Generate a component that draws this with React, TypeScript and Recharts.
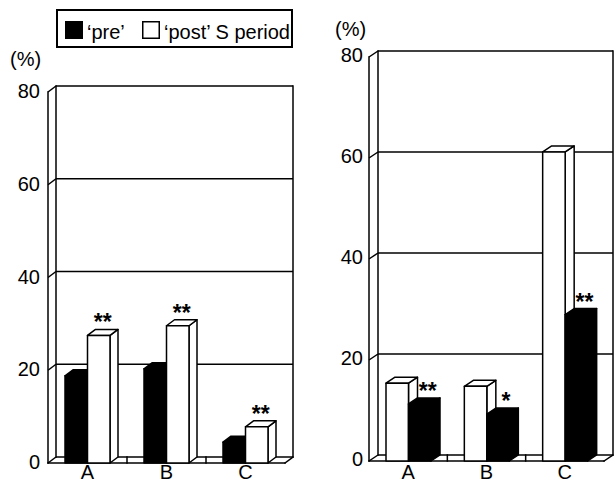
import React from 'react';
import { BarChart, Bar, XAxis, YAxis, CartesianGrid, ReferenceArea, LabelList, Legend } from 'recharts';

// ---- data ----
const categories = ['A', 'B', 'C'];
const leftPre = [18.8, 20.3, 4.5];
const leftPost = [27.5, 29.6, 7.8];
const leftStars = ['**', '**', '**'];
const rightPost = [15.4, 14.8, 61.2];
const rightPre = [11.3, 9.3, 29.0];
const rightStars = ['**', '*', '**'];
const yTicks = [0, 20, 40, 60, 80];
const yDomain: [number, number] = [0, 80];
const preName = '\u2018pre\u2019';
const postName = '\u2018post\u2019 S period';
const legendOrder = [preName, postName];
const unitLabel = '(%)';

const leftData = categories.map((c, i) => ({ cat: c, pre: leftPre[i], post: leftPost[i], star: leftStars[i] }));
const rightData = categories.map((c, i) => ({ cat: c, pre: rightPre[i], post: rightPost[i], star: rightStars[i] }));

const FONT = '"Liberation Sans", Arial, Helvetica, sans-serif';
const INK = '#000';
const LW = 1.5;

// ---- 3D helpers ----
const makeFrame = (dx: number, dy: number, n: number) => (props: any) => {
  const { x, y, width: w, height: h } = props;
  if (x == null || w == null) return null;
  const bottom = y + h;
  const lines: number[][] = [
    [x, y, x, bottom],
    [x + dx, y - dy, x + dx, bottom - dy],
    [x + w + dx, y - dy, x + w + dx, bottom - dy],
    [x, bottom, x + w, bottom],
    [x + w, bottom, x + w + dx, bottom - dy],
  ];
  for (let i = 1; i < n; i++) {
    const bx = x + (w * i) / n;
    lines.push([bx, bottom, bx, bottom - dy]);
  }
  return (
    <g>
      {lines.map((l, i) => (
        <line key={i} x1={l[0]} y1={l[1]} x2={l[2]} y2={l[3]} stroke={INK} strokeWidth={LW} strokeLinecap="square" />
      ))}
    </g>
  );
};

const makeGridLine = (dx: number, dy: number) => (props: any) => {
  const { x1, y1, x2 } = props;
  return (
    <g key={`g-${y1}`}>
      <line x1={x1 + dx} y1={y1 - dy} x2={x2 + dx} y2={y1 - dy} stroke={INK} strokeWidth={LW} />
      <line x1={x1} y1={y1} x2={x1 + dx} y2={y1 - dy} stroke={INK} strokeWidth={LW} />
    </g>
  );
};

const makeBar3D = (dx: number, dy: number) => (props: any) => {
  const { x, y, width: w, height: h, fill } = props;
  if (x == null || h == null || w == null) return null;
  const common = { fill, stroke: INK, strokeWidth: LW, strokeLinejoin: 'round' as const };
  return (
    <g>
      <polygon points={`${x + w},${y} ${x + w + dx},${y - dy} ${x + w + dx},${y + h - dy} ${x + w},${y + h}`} {...common} />
      <polygon points={`${x},${y} ${x + dx},${y - dy} ${x + w + dx},${y - dy} ${x + w},${y}`} {...common} />
      <rect x={x} y={y} width={w} height={h} {...common} />
    </g>
  );
};

const makeStar = (off: number) => (props: any) => {
  const vb = props.viewBox && props.viewBox.width != null ? props.viewBox : props;
  const { x, y, width } = vb;
  if (x == null) return null;
  return (
    <text x={x + width / 2 + off} y={y - 5} textAnchor="middle" fontFamily={FONT} fontWeight="bold" fontSize={23} fill={INK}>
      {props.value}
    </text>
  );
};

const makeXTick = (dy: number) => (props: any) => {
  const { x, y, payload } = props;
  return (
    <text x={x} y={y} dy={dy} textAnchor="middle" fontFamily={FONT} fontSize={20} fill={INK}>
      {payload.value}
    </text>
  );
};

const makeYTick = (dy: number) => (props: any) => {
  const { x, y, payload } = props;
  return (
    <text x={x} y={y} dy={dy} textAnchor="end" fontFamily={FONT} fontSize={20} fill={INK}>
      {payload.value}
    </text>
  );
};

const makeUnit = (ox: number, oy: number) => (props: any) => {
  const vb = props.viewBox || {};
  return (
    <text x={(vb.x || 0) + ox} y={(vb.y || 0) + oy} textAnchor="start" fontFamily={FONT} fontSize={20} fill={INK}>
      {unitLabel}
    </text>
  );
};

const legendItemX = [9, 86];

const LegendBox = (props: any) => {
  const payload: any[] = props.payload || [];
  const items = legendOrder.map((n) => payload.find((p) => p.value === n)).filter(Boolean);
  return (
    <svg width={237} height={39} style={{ display: 'block' }}>
      <rect x={1} y={1} width={235} height={37} fill="#fff" stroke={INK} strokeWidth={2} />
      {items.map((p: any, i: number) => (
        <g key={i}>
          <rect x={legendItemX[i] + 0.75} y={12.75} width={16.5} height={16.5} fill={p.color} stroke={INK} strokeWidth={1.5} />
          <text x={legendItemX[i] + 22} y={30} fontFamily={FONT} fontSize={20} fill={INK}>
            {p.value}
          </text>
        </g>
      ))}
    </svg>
  );
};

const L_DX = 8;
const L_DY = 6;
const R_DX = 9;
const R_DY = 6;

export default function App() {
  return (
    <div style={{ position: 'absolute', left: 0, top: 0, width: 614, height: 483, background: '#fff', overflow: 'hidden' }}>
      <div style={{ position: 'absolute', left: 0, top: 0 }}>
        <BarChart width={310} height={483} data={leftData} margin={{ top: 92, right: 25, left: 0, bottom: 0 }} barGap={0} barSize={22.5}>
          <CartesianGrid vertical={false} horizontal={makeGridLine(L_DX, L_DY)} />
          <ReferenceArea y1={0} y2={80} shape={makeFrame(L_DX, L_DY, categories.length)} ifOverflow="visible" />
          <XAxis dataKey="cat" height={20} axisLine={false} tickLine={false} tickSize={0} tickMargin={0} tick={makeXTick(16)} />
          <YAxis
            domain={yDomain}
            ticks={yTicks}
            width={48}
            axisLine={false}
            tickLine={false}
            tickSize={0}
            tickMargin={8}
            tick={makeYTick(6)}
            label={{ content: makeUnit(10, -26) }}
          />
          <Legend
            layout="vertical"
            align="center"
            verticalAlign="middle"
            wrapperStyle={{ left: 56, top: 9, width: 237, height: 39 }}
            content={LegendBox}
          />
          <Bar dataKey="pre" name={preName} fill="#000" isAnimationActive={false} shape={makeBar3D(L_DX, L_DY)} />
          <Bar dataKey="post" name={postName} fill="#fff" isAnimationActive={false} shape={makeBar3D(L_DX, L_DY)}>
            <LabelList dataKey="star" content={makeStar(4)} />
          </Bar>
        </BarChart>
      </div>
      <div style={{ position: 'absolute', left: 310, top: 0 }}>
        <BarChart width={304} height={483} data={rightData} margin={{ top: 57, right: 10, left: 0, bottom: 0 }} barGap={0} barSize={22.5}>
          <CartesianGrid vertical={false} horizontal={makeGridLine(R_DX, R_DY)} />
          <ReferenceArea y1={0} y2={80} shape={makeFrame(R_DX, R_DY, categories.length)} ifOverflow="visible" />
          <XAxis dataKey="cat" height={22} axisLine={false} tickLine={false} tickSize={0} tickMargin={0} tick={makeXTick(18)} />
          <YAxis
            domain={yDomain}
            ticks={yTicks}
            width={59}
            axisLine={false}
            tickLine={false}
            tickSize={0}
            tickMargin={6}
            tick={makeYTick(4.5)}
            label={{ content: makeUnit(25, -21) }}
          />
          <Bar dataKey="post" name={postName} fill="#fff" isAnimationActive={false} shape={makeBar3D(R_DX, R_DY)} />
          <Bar dataKey="pre" name={preName} fill="#000" isAnimationActive={false} shape={makeBar3D(R_DX, R_DY)}>
            <LabelList dataKey="star" content={makeStar(8)} />
          </Bar>
        </BarChart>
      </div>
    </div>
  );
}
